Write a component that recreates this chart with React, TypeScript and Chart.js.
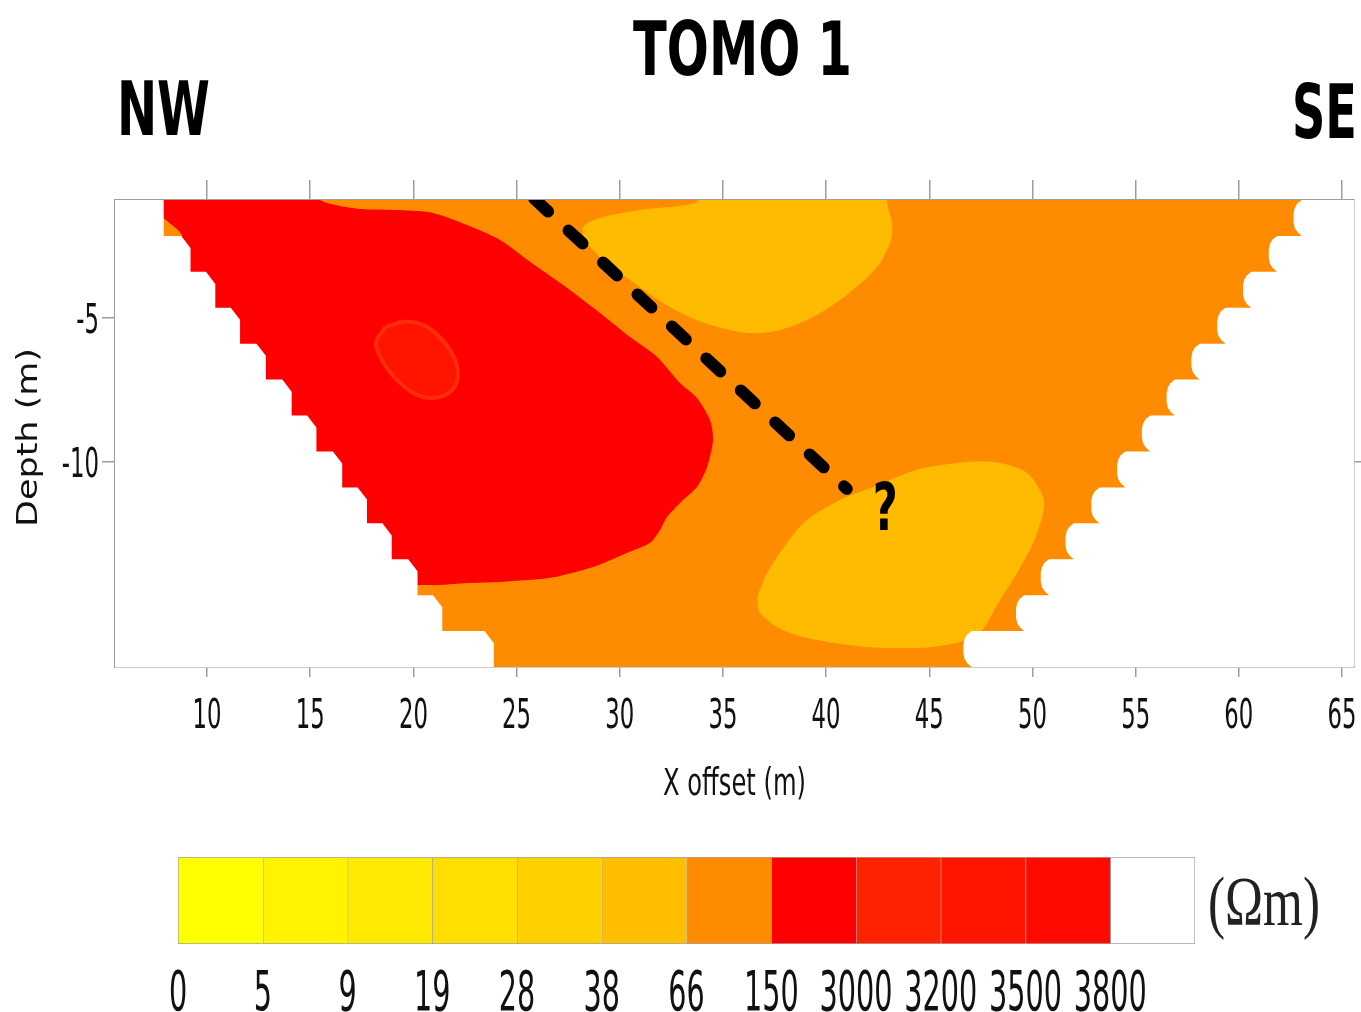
import React, { useEffect, useRef } from 'react';
import { Chart, registerables } from 'chart.js';

Chart.register(...registerables);

// ---------------- data ----------------
const xTickValues = [10, 15, 20, 25, 30, 35, 40, 45, 50, 55, 60, 65];
const yTickValuesLeft = [-10, -5];
const yTickValuesRight = [-10];
const xRange = [5.54, 65.58];
const yRange = [-17.15, -0.9];

// model layer boundaries (depth, m) and the edge of the pseudo-section per layer (x, m)
const layerDepths = [-0.9, -2.15, -3.4, -4.65, -5.9, -7.15, -8.4, -9.65, -10.9, -12.15, -13.4, -14.65, -15.9, -17.15];
const leftEdgeX = [7.9, 9.2, 10.4, 11.6, 12.85, 14.1, 15.3, 16.55, 17.75, 18.95, 20.2, 21.4, 23.9];
const rightEdgeX = [63.05, 61.85, 60.6, 59.35, 58.1, 56.9, 55.7, 54.5, 53.25, 52.0, 50.8, 49.6, 47.05];

// resistivity zones (x, depth)
const redZone = [
  [7.24, -0.5], [15.48, -0.5], [15.48, -0.9], [16.45, -1.11], [17.41, -1.21], [19.35, -1.25], [20.95, -1.35],
  [22.6, -1.77], [24.2, -2.29], [25.8, -3.13], [27.45, -3.96], [29.04, -4.83], [30.5, -5.67], [31.81, -6.36],
  [32.92, -7.27], [33.74, -7.79], [34.37, -8.55], [34.52, -9.25], [34.23, -10.19], [33.74, -10.89], [32.92, -11.44],
  [32.29, -11.93], [31.95, -12.38], [31.47, -12.83], [30.35, -13.18], [28.71, -13.67], [27.11, -13.98], [26.14, -14.09],
  [24.2, -14.19], [22.6, -14.23], [21.29, -14.3], [20.18, -14.3], [18.38, -14.33], [6.27, -14.47], [6.27, -4.38],
  [8.79, -2.22], [7.72, -1.39], [7.24, -0.5],
];
const redCore = [
  [18.63, -5.32], [19.59, -5.14], [20.56, -5.28], [21.53, -5.88], [22.11, -6.68], [22.02, -7.37], [21.29, -7.75],
  [20.32, -7.72], [19.35, -7.27], [18.53, -6.54], [18.19, -5.88], [18.63, -5.32],
];
const yellowTop = [
  [33.41, -0.5], [42.95, -0.5], [42.95, -1.0], [43.19, -1.7], [43.14, -2.29], [42.61, -3.09], [41.79, -3.72],
  [40.67, -4.38], [39.37, -4.97], [37.77, -5.42], [36.46, -5.53], [35.34, -5.42], [33.74, -5.08], [32.1, -4.48],
  [30.5, -3.68], [29.04, -2.88], [28.32, -2.29], [28.22, -1.84], [29.04, -1.53], [30.98, -1.25], [33.74, -0.97],
  [33.41, -0.5],
];
const yellowBottom = [
  [36.65, -14.71], [37.14, -13.88], [38.11, -12.83], [39.08, -12.03], [40.67, -11.34], [42.27, -10.89], [44.41, -10.29],
  [46.83, -10.02], [48.43, -10.05], [49.74, -10.4], [50.51, -11.23], [50.51, -11.79], [50.03, -12.83], [49.25, -13.88],
  [48.43, -14.82], [47.46, -15.97], [46.83, -16.21], [45.18, -16.45], [43.58, -16.49], [41.98, -16.45], [39.56, -16.21],
  [37.91, -15.86], [36.8, -15.27], [36.65, -14.71],
];
const faultLine = [[25.85, -0.85], [41.0, -10.95]];
const faultLabel = { x: 42.86, y: -11.55, text: '?' };

const legendLabels = ['0', '5', '9', '19', '28', '38', '66', '150', '3000', '3200', '3500', '3800'];
const legendColors = ['#ffff00', '#fff300', '#ffe900', '#ffde00', '#ffd000', '#ffbf00', '#ff8c00', '#ff0000', '#ff2200', '#ff1400', '#ff0a00', '#ffffff'];

// ---------------- styles ----------------
const ORANGE = '#ff8c00';
const RED = '#ff0000';
const RED_CORE = '#ff1400';
const RED_CORE_RING = '#ff2c0a';
const YELLOW = '#ffbb00';
const AXIS = '#9d9d9d';
const CH_X = 0.45;
const CH_Y = 0.42;
const bumpF = [0, 0.1, 0.22, 0.38, 0.62, 0.78, 0.9, 1];
const bumpDx = [0, -0.22, -0.34, -0.4, -0.4, -0.34, -0.2, 0];

const toPts = (arr: number[][]) => arr.map(([x, y]) => ({ x, y }));

function buildLeftMask() {
  const xmin = xRange[0] - 1, ytop = yRange[1] + 1, ybot = yRange[0] - 1;
  const pts: { x: number; y: number }[] = [{ x: xmin, y: ytop }, { x: leftEdgeX[0], y: ytop }];
  const n = leftEdgeX.length;
  for (let k = 0; k < n; k++) {
    const t = layerDepths[k], b = layerDepths[k + 1];
    if (k > 0) {
      pts.push({ x: leftEdgeX[k] - CH_X, y: t });
      pts.push({ x: leftEdgeX[k], y: t - CH_Y });
    }
    pts.push({ x: leftEdgeX[k], y: k === n - 1 ? ybot : b });
  }
  pts.push({ x: xmin, y: ybot });
  pts.push({ x: xmin, y: ytop });
  return pts;
}

function buildRightMask() {
  const xmax = xRange[1] + 1, ytop = yRange[1] + 1, ybot = yRange[0] - 1;
  const pts: { x: number; y: number }[] = [{ x: xmax, y: ytop }, { x: rightEdgeX[0], y: ytop }];
  const n = rightEdgeX.length;
  for (let k = 0; k < n; k++) {
    const t = layerDepths[k], b = layerDepths[k + 1];
    const h = t - b;
    for (let i = 0; i < bumpF.length; i++) pts.push({ x: rightEdgeX[k] + bumpDx[i], y: t - bumpF[i] * h });
    if (k === n - 1) pts.push({ x: rightEdgeX[k], y: ybot });
  }
  pts.push({ x: xmax, y: ybot });
  pts.push({ x: xmax, y: ytop });
  return pts;
}

function polygon(data: { x: number; y: number }[], color: string, tension = 0, extra: any = {}) {
  return {
    type: 'line',
    data,
    xAxisID: 'x',
    yAxisID: 'y',
    fill: 'shape',
    backgroundColor: color,
    borderColor: 'rgba(0,0,0,0)',
    borderWidth: 0,
    pointRadius: 0,
    pointHoverRadius: 0,
    tension,
    ...extra,
  };
}

function drawText(ctx: CanvasRenderingContext2D, text: string, x: number, y: number, font: string, sx: number, align: 'left' | 'center' | 'right') {
  ctx.save();
  ctx.font = font;
  ctx.textAlign = 'left';
  ctx.textBaseline = 'alphabetic';
  const w = ctx.measureText(text).width * sx;
  const x0 = align === 'left' ? x : align === 'center' ? x - w / 2 : x - w;
  ctx.translate(x0, y);
  ctx.scale(sx, 1);
  ctx.fillText(text, 0, 0);
  ctx.restore();
}
function fitScale(ctx: CanvasRenderingContext2D, text: string, font: string, target: number) {
  ctx.save();
  ctx.font = font;
  const w = ctx.measureText(text).width;
  ctx.restore();
  return target / w;
}

const SANS = '"DejaVu Sans", "Liberation Sans", sans-serif';
const BOLD_FONT = `bold 75px ${SANS}`;
const TICK_FONT = `41px ${SANS}`;
const XTITLE_FONT = `37px ${SANS}`;
const YTITLE_FONT = `28px ${SANS}`;
const Q_FONT = `bold 66px ${SANS}`;
const LEGEND_FONT = `55px ${SANS}`;
const UNIT_FONT = `70px "Liberation Serif", "DejaVu Serif", serif`;

const mainTextPlugin = {
  id: 'mainText',
  afterDraw(chart: any) {
    const ctx: CanvasRenderingContext2D = chart.ctx;
    const xs = chart.scales.x;
    const ys = chart.scales.y;
    const area = chart.chartArea;
    ctx.save();
    ctx.fillStyle = '#000';
    drawText(ctx, 'TOMO 1', 742.5, 75, BOLD_FONT, fitScale(ctx, 'TOMO 1', BOLD_FONT, 219), 'center');
    drawText(ctx, 'NW', 117, 135, BOLD_FONT, fitScale(ctx, 'NW', BOLD_FONT, 93), 'left');
    drawText(ctx, 'SE', 1357, 138, BOLD_FONT, fitScale(ctx, 'SE', BOLD_FONT, 65), 'right');

    ctx.fillStyle = '#111';
    const sx = fitScale(ctx, '10', TICK_FONT, 29);
    xTickValues.forEach((v) => drawText(ctx, String(v), xs.getPixelForValue(v), area.bottom + 61, TICK_FONT, sx, 'center'));
    yTickValuesLeft.forEach((v) => drawText(ctx, String(v), area.left - 16, ys.getPixelForValue(v) + 15, TICK_FONT, sx, 'right'));

    drawText(ctx, 'X offset (m)', (area.left + area.right) / 2, area.bottom + 128, XTITLE_FONT, fitScale(ctx, 'X offset (m)', XTITLE_FONT, 143), 'center');

    ctx.save();
    ctx.translate(37, (area.top + area.bottom) / 2 + 4);
    ctx.rotate(-Math.PI / 2);
    drawText(ctx, 'Depth (m)', 0, 0, YTITLE_FONT, fitScale(ctx, 'Depth (m)', YTITLE_FONT, 179), 'center');
    ctx.restore();

    ctx.fillStyle = '#000';
    const qx = xs.getPixelForValue(faultLabel.x);
    const qy = ys.getPixelForValue(faultLabel.y);
    drawText(ctx, faultLabel.text, qx, qy + 24, Q_FONT, fitScale(ctx, faultLabel.text, Q_FONT, 25), 'center');
    ctx.restore();
  },
};

const legendTextPlugin = {
  id: 'legendText',
  afterDraw(chart: any) {
    const ctx: CanvasRenderingContext2D = chart.ctx;
    const xs = chart.scales.x;
    const area = chart.chartArea;
    ctx.save();
    ctx.fillStyle = '#111';
    const sx = fitScale(ctx, '3000', LEGEND_FONT, 73);
    legendLabels.forEach((l, i) => drawText(ctx, l, xs.getPixelForValue(i), area.bottom + 66, LEGEND_FONT, sx, 'center'));
    ctx.fillStyle = '#222';
    drawText(ctx, '(Ωm)', area.right + 13, area.top + 68, UNIT_FONT, fitScale(ctx, '(Ωm)', UNIT_FONT, 112), 'left');
    ctx.restore();
  },
};

function axisOpts(position: string, min: number, max: number, tickLength: number, ticks: number[]) {
  return {
    type: 'linear',
    position,
    min,
    max,
    z: 1,
    afterBuildTicks: (scale: any) => {
      scale.ticks = ticks.map((v) => ({ value: v }));
    },
    ticks: { display: false },
    grid: { display: true, drawOnChartArea: false, drawTicks: true, tickLength, color: AXIS, lineWidth: 1.5 },
    border: { display: true, color: AXIS, width: 1.5 },
  };
}

export default function App() {
  const mainRef = useRef<HTMLCanvasElement>(null);
  const barRef = useRef<HTMLCanvasElement>(null);

  useEffect(() => {
    const layers = [
      polygon(toPts([[xRange[0] - 1, yRange[1] + 1], [xRange[1] + 1, yRange[1] + 1], [xRange[1] + 1, yRange[0] - 1], [xRange[0] - 1, yRange[0] - 1], [xRange[0] - 1, yRange[1] + 1]]), ORANGE),
      polygon(toPts(redZone), RED, 0.25),
      polygon(toPts(redCore), RED_CORE, 0.35, { borderColor: RED_CORE_RING, borderWidth: 4 }),
      polygon(toPts(yellowTop), YELLOW, 0.3),
      polygon(toPts(yellowBottom), YELLOW, 0.3),
      polygon(buildLeftMask(), '#ffffff'),
      polygon(buildRightMask(), '#ffffff'),
      {
        type: 'line',
        data: toPts(faultLine),
        xAxisID: 'x',
        yAxisID: 'y',
        fill: false,
        borderColor: '#000',
        borderWidth: 12,
        borderDash: [19, 28],
        borderCapStyle: 'round',
        pointRadius: 0,
        pointHoverRadius: 0,
        tension: 0,
      },
    ];
    const n = layers.length;
    const datasets = layers.map((d: any, i) => ({ ...d, order: n - i }));

    const main = new Chart(mainRef.current as HTMLCanvasElement, {
      type: 'line',
      data: { datasets } as any,
      options: {
        animation: false,
        responsive: false,
        devicePixelRatio: 1,
        events: [],
        layout: { padding: { left: 102, top: 180, right: 0, bottom: 153 } },
        plugins: { legend: { display: false }, tooltip: { enabled: false }, title: { display: false } },
        scales: {
          x: axisOpts('bottom', xRange[0], xRange[1], 10, xTickValues),
          x2: axisOpts('top', xRange[0], xRange[1], 20, xTickValues),
          y: axisOpts('left', yRange[0], yRange[1], 13, yTickValuesLeft),
          y2: axisOpts('right', yRange[0], yRange[1], 7, yTickValuesRight),
        } as any,
      },
      plugins: [mainTextPlugin],
    } as any);

    const last = legendColors.length - 1;
    const bar = new Chart(barRef.current as HTMLCanvasElement, {
      type: 'bar',
      data: {
        labels: ['Ωm'],
        datasets: legendColors.map((c, i) => ({
          data: [1],
          backgroundColor: c,
          borderColor: 'rgba(90,90,90,0.55)',
          borderWidth: { top: 1, bottom: 1, left: 1, right: i === last ? 1 : 0 },
          borderSkipped: false,
          barPercentage: 1,
          categoryPercentage: 1,
        })),
      },
      options: {
        indexAxis: 'y',
        animation: false,
        responsive: false,
        devicePixelRatio: 1,
        events: [],
        layout: { padding: { left: 178, right: 166, top: 27, bottom: 68 } },
        plugins: { legend: { display: false }, tooltip: { enabled: false } },
        scales: {
          x: { stacked: true, min: 0, max: legendColors.length, display: false },
          y: { stacked: true, display: false },
        },
      },
      plugins: [legendTextPlugin],
    } as any);

    return () => {
      main.destroy();
      bar.destroy();
    };
  }, []);

  return (
    <div style={{ position: 'absolute', left: 0, top: 0, width: 1361, height: 1012, background: '#fff', overflow: 'hidden' }}>
      <canvas ref={mainRef} width={1361} height={830} style={{ position: 'absolute', left: 0, top: 0, width: 1361, height: 830 }} />
      <canvas ref={barRef} width={1361} height={182} style={{ position: 'absolute', left: 0, top: 830, width: 1361, height: 182 }} />
    </div>
  );
}
